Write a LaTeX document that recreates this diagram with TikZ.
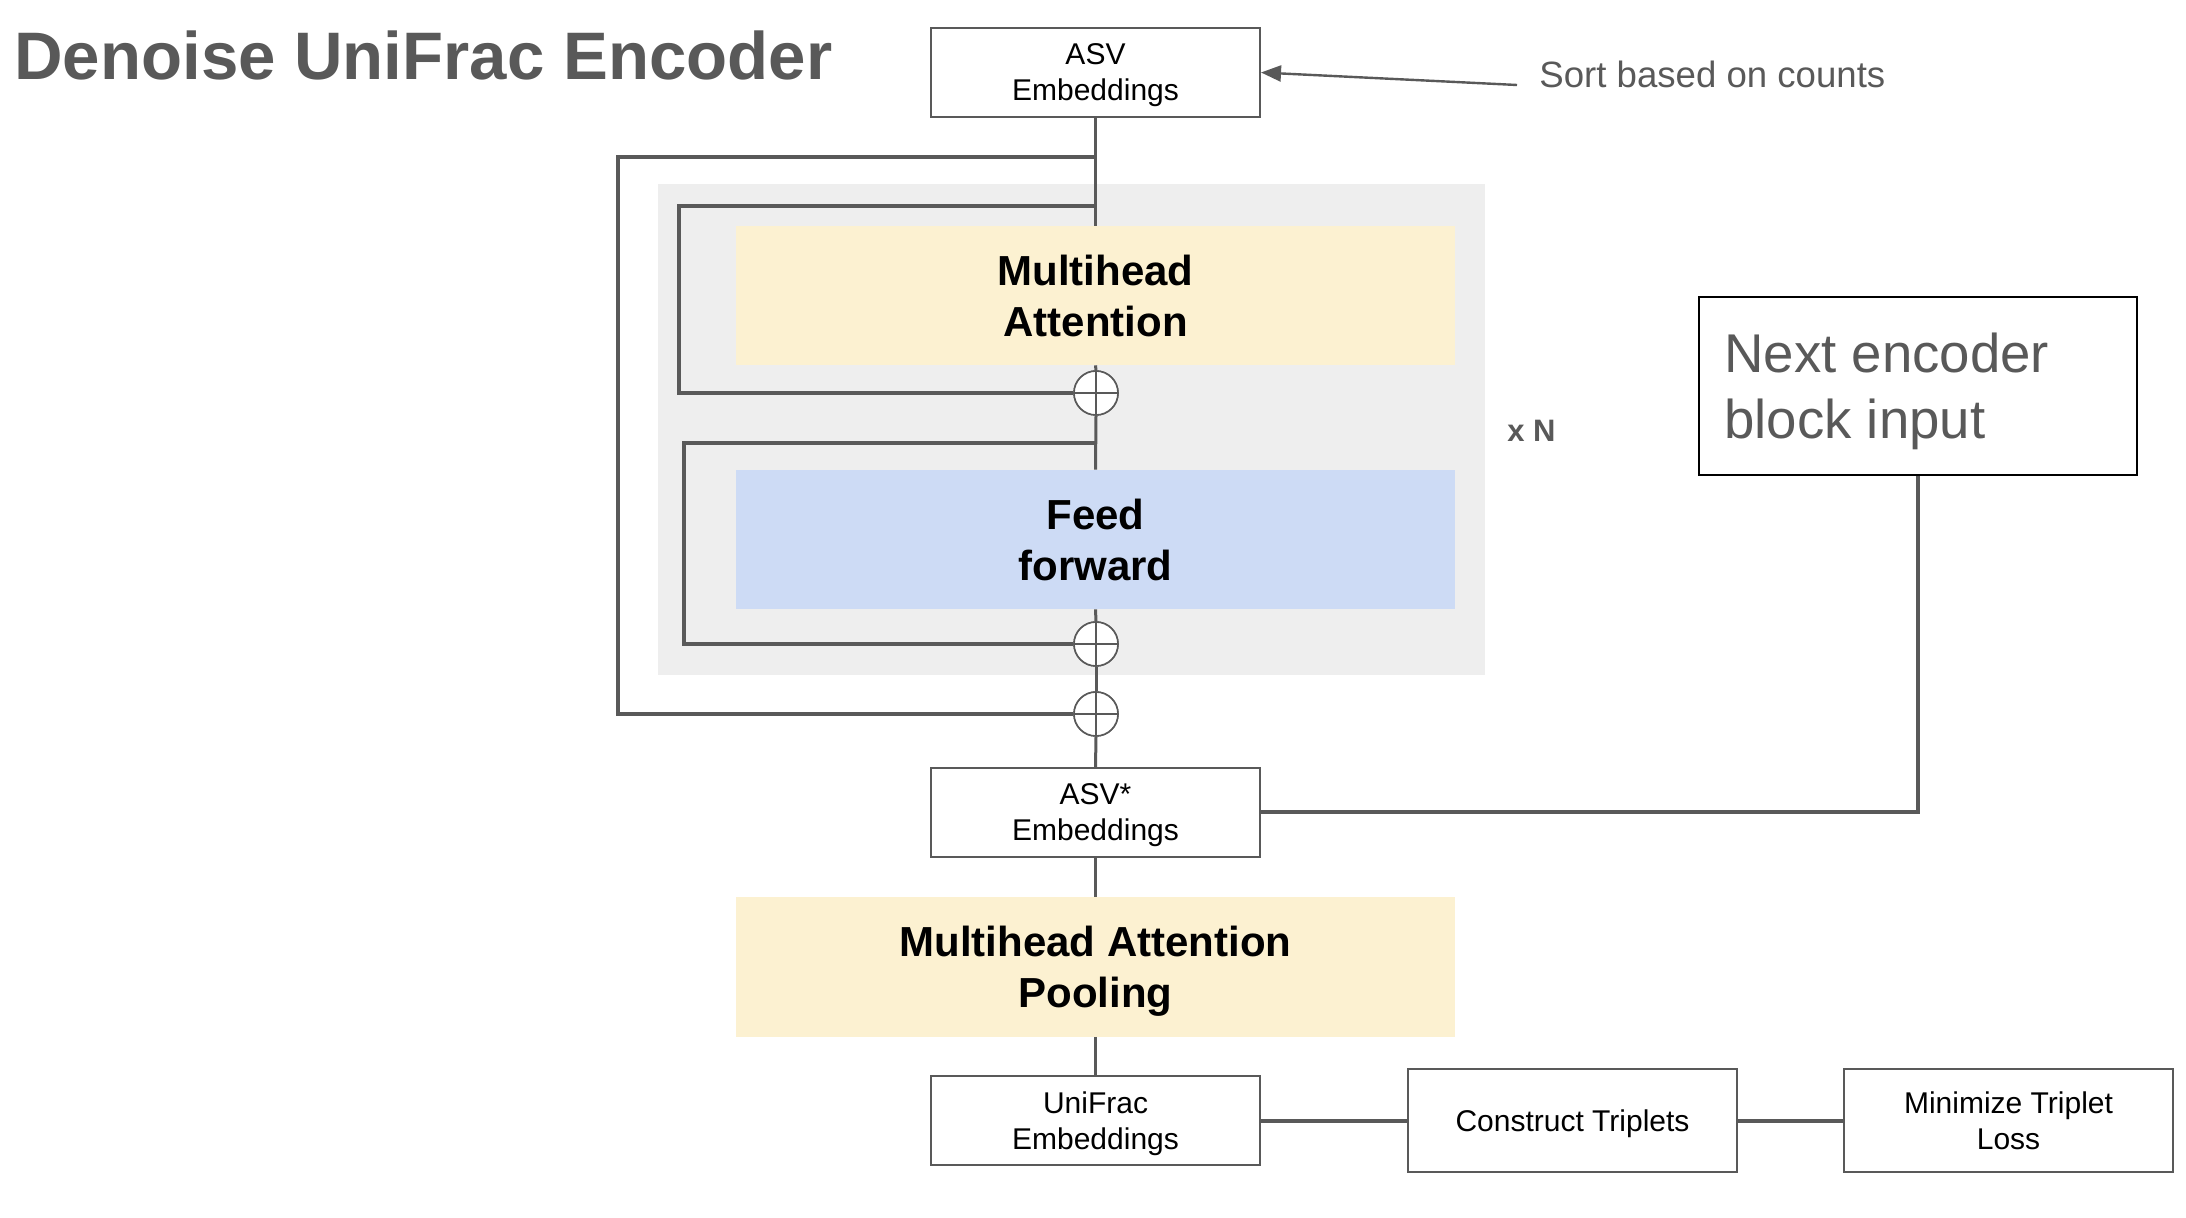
\documentclass[tikz,border=0pt]{standalone}
\usepackage{fontspec}
\setmainfont{Liberation Sans}
\usetikzlibrary{arrows.meta}
\definecolor{linegray}{HTML}{595959}
\definecolor{blockgray}{HTML}{EEEEEE}
\definecolor{mhyellow}{HTML}{FCF1D1}
\definecolor{ffblue}{HTML}{CDDBF5}
\tikzset{
  wbox/.style={draw=linegray, line width=1pt, fill=white, minimum width=164.5pt, minimum height=44.5pt,
    align=center, inner sep=0pt, text depth=-2.4pt, font=\fontsize{15}{18}\selectfont},
  cbox/.style={minimum width=359.5pt, minimum height=69.5pt, align=center, inner sep=0pt,
    text depth=-2.2pt, font=\bfseries\fontsize{21}{25.4}\selectfont},
  plusnode/.style={circle, draw=linegray, line width=0.8pt, fill=white, minimum size=22pt, inner sep=0pt,
    path picture={\draw[linegray, line width=0.8pt]
      (path picture bounding box.north) -- (path picture bounding box.south)
      (path picture bounding box.west) -- (path picture bounding box.east);}},
  mainline/.style={draw=linegray, line width=1.5pt},
  loopline/.style={draw=linegray, line width=2pt},
}
\begin{document}
\begin{tikzpicture}[x=0.5pt, y=-0.5pt]
\useasboundingbox (0,0) rectangle (2186,1218);
% title
\node[anchor=base west, inner sep=0pt, text=linegray, font=\bfseries\fontsize{33.6}{40}\selectfont] (title) at (14,80) {Denoise UniFrac Encoder};
% gray block
\node[fill=blockgray, minimum width=413.5pt, minimum height=245.5pt, inner sep=0pt] (block) at (1071.5,429.5) {};
\node[anchor=west, inner sep=0pt, text=linegray, font=\bfseries\fontsize{15.5}{18}\selectfont] (xn) at (1507,431) {x N};
% boxes
\node[wbox] (asv) at (1095.5,72.5) {ASV\\Embeddings};
\node[cbox, fill=mhyellow] (mha) at (1095.5,295.5) {Multihead\\Attention};
\node[cbox, fill=ffblue] (ff) at (1095.5,539.5) {Feed\\forward};
\node[wbox] (asvs) at (1095.5,812.5) {ASV*\\Embeddings};
\node[cbox, fill=mhyellow] (pool) at (1095.5,967) {Multihead Attention\\Pooling};
\node[wbox] (uni) at (1095.5,1120.5) {UniFrac\\Embeddings};
\node[wbox, minimum height=51.5pt] (ct) at (1572.5,1120.5) {Construct Triplets};
\node[wbox, minimum height=51.5pt] (mt) at (2008.5,1120.5) {Minimize Triplet\\Loss};
\node[draw=black, line width=1pt, fill=white, minimum width=219pt, minimum height=89pt, inner sep=0pt] (next) at (1918,386) {};
\node[anchor=north west, align=left, inner sep=0pt, text=linegray, font=\fontsize{27.3}{32.8}\selectfont] (nexttxt) at (1724,333) {Next encoder\\block input};
% sort label
\node[anchor=west, inner sep=0pt, text=linegray, font=\fontsize{18.3}{22}\selectfont] (sort) at (1539,74) {Sort based on counts};
% plus nodes
\node[plusnode] (p1) at (1096,393) {};
\node[plusnode] (p2) at (1096,644) {};
\node[plusnode] (p3) at (1096,714) {};
% coordinates
\coordinate (o1) at (1096,157);
\coordinate (o2) at (618,714);
\coordinate (a1) at (1096,206);
\coordinate (a2) at (679,393);
\coordinate (f1) at (1096,443);
\coordinate (f2) at (684,644);
\coordinate (sortfrom) at (1517,85);
% loops
\draw[loopline] (o1) -| (o2) -- (p3.west);
\draw[loopline] (a1) -| (a2) -- (p1.west);
\draw[loopline] (f1) -| (f2) -- (p2.west);
% main line
\draw[mainline] (asv.south) -- (mha.north);
\draw[mainline] (mha.south) -- (p1.north);
\draw[mainline] (p1.south) -- (ff.north);
\draw[mainline] (ff.south) -- (p2.north);
\draw[mainline] (p2.south) -- (p3.north);
\draw[mainline] (p3.south) -- (asvs.north);
\draw[mainline] (asvs.south) -- (pool.north);
\draw[mainline] (pool.south) -- (uni.north);
% plus nodes on top
\node[plusnode] at (p1) {};
\node[plusnode] at (p2) {};
\node[plusnode] at (p3) {};
% side connectors
\draw[loopline] (asvs.east) -| (next.south);
\draw[loopline] (uni.east) -- (ct.west);
\draw[loopline] (ct.east) -- (mt.west);
\draw[draw=linegray, line width=1.2pt, -{Triangle[length=10pt, width=8pt]}] (sortfrom) -- (asv.east);
\end{tikzpicture}
\end{document}
